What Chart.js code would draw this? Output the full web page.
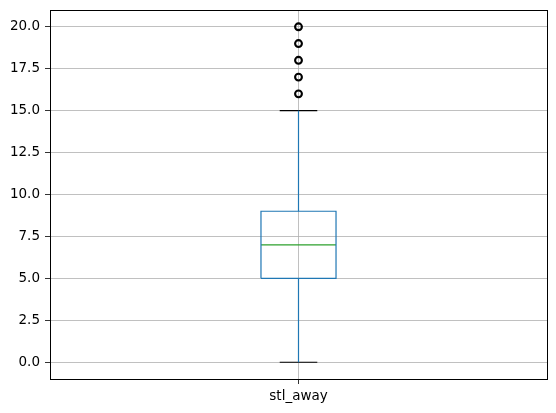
<!DOCTYPE html>
<html>
<head>
<meta charset="utf-8">
<script src="https://cdn.jsdelivr.net/npm/chart.js@4.4.1/dist/chart.umd.min.js"></script>
<style>
html,body{margin:0;padding:0;background:#fff;}
#wrap{width:556px;height:413px;position:relative;}
</style>
</head>
<body>
<div id="wrap"><canvas id="c" width="556" height="413"></canvas></div>
<script>
// ---- data ----
const categories = ["stl_away"];
const whiskerLow = [0];
const q1 = [5];
const median = [7];
const q3 = [9];
const whiskerHigh = [15];
const fliers = [[16, 17, 18, 19, 20]];
const yTicks = [0, 2.5, 5, 7.5, 10, 12.5, 15, 17.5, 20];

// ---- styles ----
const BOX_HALF = 0.0755;
const CAP_HALF = 0.0378;
const BLUE = '#1f77b4';
const GREEN = '#2ca02c';

const datasets = [];
categories.forEach((cat, i) => {
  const x = i + 1;
  datasets.push({
    label: cat + ' box',
    data: [
      {x: x - BOX_HALF, y: q1[i]}, {x: x + BOX_HALF, y: q1[i]},
      {x: x + BOX_HALF, y: q3[i]}, {x: x - BOX_HALF, y: q3[i]},
      {x: x - BOX_HALF, y: q1[i]}
    ],
    showLine: true, borderColor: BLUE, borderWidth: 1.2, pointRadius: 0, fill: false
  });
  datasets.push({
    label: cat + ' whisker low',
    data: [{x: x, y: q1[i]}, {x: x, y: whiskerLow[i]}],
    showLine: true, borderColor: BLUE, borderWidth: 1.2, pointRadius: 0
  });
  datasets.push({
    label: cat + ' whisker high',
    data: [{x: x, y: q3[i]}, {x: x, y: whiskerHigh[i]}],
    showLine: true, borderColor: BLUE, borderWidth: 1.2, pointRadius: 0
  });
  datasets.push({
    label: cat + ' cap low',
    data: [{x: x - CAP_HALF, y: whiskerLow[i]}, {x: x + CAP_HALF, y: whiskerLow[i]}],
    showLine: true, borderColor: '#000', borderWidth: 1.2, pointRadius: 0
  });
  datasets.push({
    label: cat + ' cap high',
    data: [{x: x - CAP_HALF, y: whiskerHigh[i]}, {x: x + CAP_HALF, y: whiskerHigh[i]}],
    showLine: true, borderColor: '#000', borderWidth: 1.2, pointRadius: 0
  });
  datasets.push({
    label: cat + ' median',
    data: [{x: x - BOX_HALF, y: median[i]}, {x: x + BOX_HALF, y: median[i]}],
    showLine: true, borderColor: GREEN, borderWidth: 1.2, pointRadius: 0
  });
  datasets.push({
    label: cat + ' fliers',
    data: fliers[i].map(v => ({x: x, y: v})),
    showLine: false, pointRadius: 3.4, pointBorderWidth: 2.1,
    pointBorderColor: '#000', pointBackgroundColor: 'rgba(0,0,0,0)', pointStyle: 'circle'
  });
});

const frame = {
  id: 'frame',
  afterDraw(chart) {
    const a = chart.chartArea, ctx = chart.ctx;
    ctx.save();
    ctx.strokeStyle = '#000';
    ctx.lineWidth = 1;
    ctx.strokeRect(Math.round(a.left) + 0.5, Math.round(a.top) + 0.5,
                   Math.round(a.right - a.left), Math.round(a.bottom - a.top));
    ctx.restore();
  }
};

const FONT = {family: 'DejaVu Sans', size: 13.5};

new Chart(document.getElementById('c'), {
  type: 'scatter',
  data: {datasets},
  plugins: [frame],
  options: {
    responsive: false,
    animation: false,
    devicePixelRatio: 1,
    layout: {padding: {top: 10, right: 9, left: 0, bottom: 0}},
    plugins: {legend: {display: false}, tooltip: {enabled: false}},
    scales: {
      x: {
        type: 'linear', min: 0.5, max: 1.5,
        afterBuildTicks(ax) { ax.ticks = categories.map((c, i) => ({value: i + 1})); },
        afterFit(ax) { ax.height = 34; ax.paddingLeft = 0; ax.paddingRight = 0; },
        ticks: {
          callback: (v) => categories[Math.round(v) - 1] ?? '',
          color: '#000', font: FONT, padding: 4, maxRotation: 0
        },
        grid: {color: '#b0b0b0', lineWidth: 0.8, tickColor: '#000', tickLength: 5, drawTicks: true},
        border: {display: true, color: '#000', width: 1}
      },
      y: {
        type: 'linear', min: -1, max: 21,
        afterBuildTicks(ax) { ax.ticks = yTicks.map(v => ({value: v})); },
        afterFit(ax) { ax.width = 50; ax.paddingTop = 0; ax.paddingBottom = 0; },
        ticks: {
          callback: (v) => Number(v).toFixed(1),
          color: '#000', font: FONT, padding: 5
        },
        grid: {color: '#b0b0b0', lineWidth: 0.8, tickColor: '#000', tickLength: 5, drawTicks: true},
        border: {display: true, color: '#000', width: 1}
      }
    }
  }
});
</script>
</body>
</html>
